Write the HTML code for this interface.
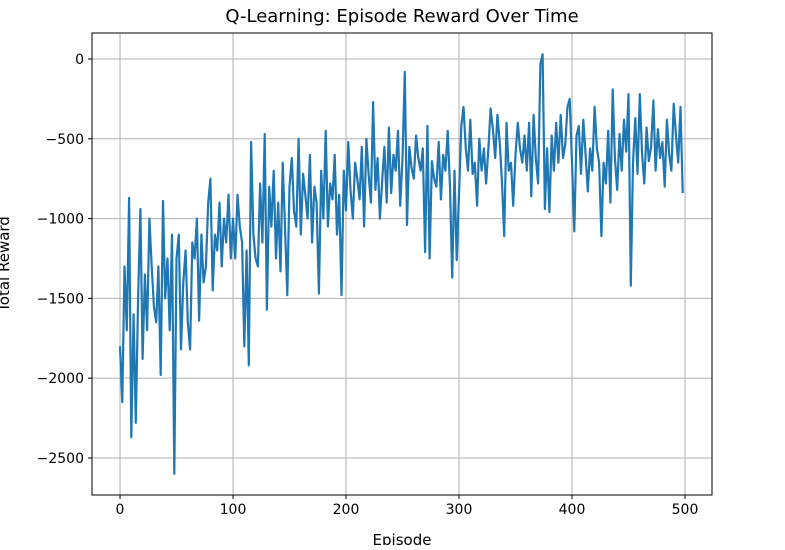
<!DOCTYPE html>
<html><head><meta charset="utf-8"><style>
body{margin:0;background:#fff;}
svg text{font-family:"DejaVu Sans","Liberation Sans",sans-serif;fill:#000;}
</style></head><body>
<svg id="chart" width="785" height="545" xmlns="http://www.w3.org/2000/svg">
<rect width="785" height="545" fill="#fff"/>
<text x="402" y="22" font-size="18" text-anchor="middle">Q-Learning: Episode Reward Over Time</text>
<g id="grid"></g>
<path id="line" fill="none" stroke="#1f77b4" stroke-width="2.2" stroke-linejoin="round"/>
<rect x="92" y="33" width="620" height="462" fill="none" stroke="#000" stroke-width="1"/>
<g id="ticks"></g>
<text x="402" y="545" font-size="15" text-anchor="middle">Episode</text>
<text transform="translate(9,264) rotate(-90)" font-size="15" text-anchor="middle">Total Reward</text>
</svg>
<script>
const xTicks=[0,100,200,300,400,500];
const yTicks=[0,-500,-1000,-1500,-2000,-2500];
const yTickLabels=["0","\u2212500","\u22121000","\u22121500","\u22122000","\u22122500"];
const episodeStep=2;
const rewards=[
-1800,-2150,-1300,-1700,-870,-2370,-1600,-2280,-1500,-940,-1880,-1350,-1700,-1000,-1300,-1550,-1650,-1300,-1980,-890,-1500,-1250,-1700,-1100,-2600,-1250,-1100,-1820,-1400,-1200,-1650,-1820,-1150,-1250,-1000,-1640,-1100,-1400,-1300,-900,-750,-1450,-1100,-1200,-900,-1300,-1000,-1150,-850,-1250,
-1000,-1250,-850,-1050,-1150,-1800,-1200,-1920,-520,-1100,-1250,-1300,-780,-1150,-470,-1570,-800,-1050,-700,-1250,-900,-1330,-650,-1050,-1480,-800,-620,-950,-1050,-500,-1100,-720,-850,-1000,-600,-1150,-800,-900,-1470,-700,-1000,-450,-1050,-780,-880,-600,-1100,-850,-1480,-700,
-950,-520,-820,-1000,-650,-750,-880,-550,-1050,-500,-720,-900,-270,-820,-620,-1000,-760,-550,-900,-430,-840,-600,-700,-450,-920,-620,-80,-1040,-550,-680,-750,-480,-620,-700,-560,-1210,-420,-1250,-640,-750,-800,-520,-880,-600,-700,-450,-800,-1370,-700,-1260,
-850,-420,-300,-560,-700,-380,-720,-650,-920,-500,-700,-560,-780,-560,-310,-440,-620,-350,-520,-760,-1110,-400,-700,-650,-920,-600,-400,-560,-650,-480,-700,-400,-860,-350,-620,-780,-30,30,-940,-560,-960,-480,-700,-400,-650,-350,-620,-540,-300,-250,
-650,-1080,-480,-420,-720,-380,-600,-830,-560,-700,-300,-560,-650,-1110,-650,-780,-450,-900,-190,-620,-820,-470,-700,-380,-580,-220,-1420,-650,-370,-720,-220,-600,-780,-430,-640,-550,-260,-700,-440,-620,-520,-800,-380,-600,-700,-280,-480,-650,-300,-840
];
const X0=-24.8,X1=523.9,Y0=-2732,Y1=163,L=92,R=712,T=33,B=495;
function sx(v){return L+(v-X0)/(X1-X0)*(R-L);}
function sy(v){return B-(v-Y0)/(Y1-Y0)*(B-T);}
const ns="http://www.w3.org/2000/svg";
const grid=document.getElementById('grid'),ticks=document.getElementById('ticks');
function mk(tag,attrs,parent){const e=document.createElementNS(ns,tag);for(const k in attrs)e.setAttribute(k,attrs[k]);parent.appendChild(e);return e;}
xTicks.forEach(t=>{const x=sx(t);
 const g=mk('line',{x1:x,x2:x,y1:T,y2:B,stroke:'#b0b0b0','stroke-width':1},grid);
 
 
 mk('line',{x1:x,x2:x,y1:B,y2:B+4,stroke:'#000'},ticks);
 const tx=mk('text',{x:x,y:B+19,'font-size':14,'text-anchor':'middle'},ticks);tx.textContent=t;
 
 
});
yTicks.forEach((t,i)=>{const y=sy(t);
 const g=mk('line',{x1:L,x2:R,y1:y,y2:y,stroke:'#b0b0b0','stroke-width':1},grid);
 
 
 mk('line',{x1:L-4,x2:L,y1:y,y2:y,stroke:'#000'},ticks);
 const tx=mk('text',{x:L-8,y:y+5,'font-size':14,'text-anchor':'end'},ticks);tx.textContent=yTickLabels[i];
 
 
});
let d='';
rewards.forEach((v,i)=>{d+=(i?'L':'M')+sx(i*episodeStep).toFixed(1)+','+sy(v).toFixed(1);});
document.getElementById('line').setAttribute('d',d);
</script>
</body></html>
